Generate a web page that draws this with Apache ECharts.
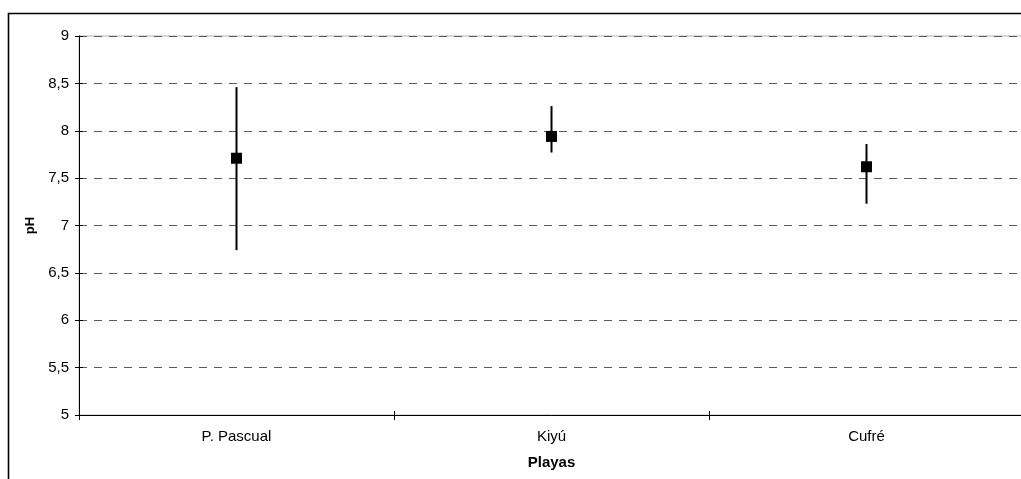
<!DOCTYPE html>
<html>
<head>
<meta charset="utf-8">
<script src="https://cdn.jsdelivr.net/npm/echarts@6/dist/echarts.min.js"></script>
<style>
  html, body { margin: 0; padding: 0; background: #fff; overflow: hidden; }
  #chart { width: 1026px; height: 479px; }
</style>
</head>
<body>
<div id="chart"></div>
<script>
// Beaches sampled and pH statistics per beach
const beaches = ['P. Pascual', 'Kiyú', 'Cufré'];
const phMean = [7.71, 7.94, 7.62];
const phLow  = [6.74, 7.77, 7.23];
const phHigh = [8.46, 8.26, 7.86];

const FONT = '"Liberation Sans", Arial, sans-serif';

const rangeData = beaches.map((b, i) => [i, phLow[i], phHigh[i]]);
const meanData = beaches.map((b, i) => [i, phMean[i]]);

const chart = echarts.init(document.getElementById('chart'), null, { renderer: 'canvas' });

chart.setOption({
  animation: false,
  backgroundColor: '#ffffff',
  textStyle: { fontFamily: FONT },
  graphic: [{
    type: 'rect',
    shape: { x: 8.5, y: 13.5, width: 1200, height: 700 },
    style: { fill: null, stroke: '#000', lineWidth: 1.6 },
    silent: true,
    z: 0
  }],
  grid: {
    left: 79, top: 36, width: 945, height: 379,
    show: true, borderColor: '#b4b4b4', borderWidth: 1,
    backgroundColor: 'transparent'
  },
  xAxis: [{
    type: 'category',
    data: beaches,
    boundaryGap: true,
    name: 'Playas',
    nameLocation: 'middle',
    nameGap: 40,
    nameTextStyle: { fontFamily: FONT, fontSize: 15, fontWeight: 'bold', color: '#000' },
    axisLine: { lineStyle: { color: '#000', width: 1 } },
    axisTick: { show: true, length: 5, lineStyle: { color: '#000' } },
    axisLabel: { margin: 14, fontFamily: FONT, fontSize: 15, color: '#000' },
    splitLine: { show: false }
  }, {
    type: 'category',
    data: beaches,
    position: 'bottom',
    boundaryGap: true,
    axisLine: { show: false },
    axisTick: { show: true, inside: true, length: 4, lineStyle: { color: '#000' } },
    axisLabel: { show: false },
    splitLine: { show: false }
  }],
  yAxis: [{
    type: 'value',
    min: 5, max: 9, interval: 0.5,
    name: 'pH',
    nameLocation: 'middle',
    nameGap: 36,
    nameTextStyle: { fontFamily: FONT, fontSize: 13, fontWeight: 'bold', color: '#000' },
    axisLine: { show: true, lineStyle: { color: '#000', width: 1 } },
    axisTick: { show: true, length: 4, lineStyle: { color: '#000' } },
    axisLabel: {
      margin: 10, fontFamily: FONT, fontSize: 15, color: '#000',
      formatter: v => String(v).replace('.', ',')
    },
    splitLine: { show: true, lineStyle: { color: '#5a5a5a', width: 1, type: [8, 7] } }
  }, {
    type: 'value',
    min: 5, max: 9, interval: 0.5,
    position: 'left',
    axisLine: { show: false },
    axisTick: { show: true, inside: true, length: 4, lineStyle: { color: '#000' } },
    axisLabel: { show: false },
    splitLine: { show: false }
  }],
  series: [{
    type: 'custom',
    name: 'rango',
    xAxisIndex: 0, yAxisIndex: 0,
    data: rangeData,
    renderItem: (params, api) => {
      const lo = api.coord([api.value(0), api.value(1)]);
      const hi = api.coord([api.value(0), api.value(2)]);
      return {
        type: 'line',
        shape: { x1: lo[0], y1: lo[1], x2: hi[0], y2: hi[1] },
        style: { stroke: '#000', lineWidth: 2 }
      };
    },
    z: 3
  }, {
    type: 'scatter',
    name: 'media',
    xAxisIndex: 0, yAxisIndex: 0,
    data: meanData,
    symbol: 'rect',
    symbolSize: 11,
    itemStyle: { color: '#000', opacity: 1 },
    z: 4
  }]
});
</script>
</body>
</html>
